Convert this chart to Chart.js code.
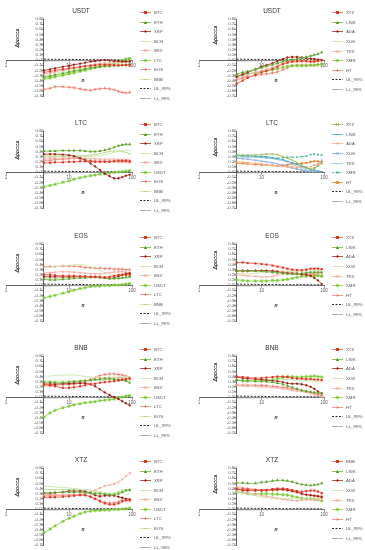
<!DOCTYPE html>
<html><head><meta charset="utf-8">
<script src="https://cdn.jsdelivr.net/npm/chart.js@4.4.1/dist/chart.umd.min.js"></script>
<style>
html,body{margin:0;padding:0;background:#fff;}
#wrap{position:relative;width:365px;height:550px;overflow:hidden;font-family:"Liberation Sans",Arial,sans-serif;}
.panel{position:absolute;height:112px;}
.panel canvas{position:absolute;left:0;top:0;}
.ttl{position:absolute;font-size:6.5px;color:#333;transform:translate(-50%,-50%);white-space:nowrap;}
.ytl{position:absolute;font-size:5px;font-weight:bold;font-style:italic;color:#222;transform:translate(-50%,-50%) rotate(-90deg);white-space:nowrap;}
.xtl{position:absolute;font-size:5px;font-weight:bold;font-style:italic;color:#222;transform:translate(-50%,-50%);}
.li{position:absolute;height:6px;display:flex;align-items:center;white-space:nowrap;font-size:4.3px;color:#555;}
.li svg{margin-right:3px;}
</style></head>
<body><div id="wrap"></div>
<script>
const N_VALUES = [4,5,6,8,10,12,15,18,22,26,31,37,44,52,61,70,80,92];
const X_TICKS = [1,10,100];
const Y_TICKS = [-0.7,-0.6,-0.5,-0.4,-0.3,-0.2,-0.1,0,0.1,0.2,0.3,0.4,0.5,0.6,0.7,0.8];
const UL_99 = [0.018,0.016,0.015,0.013,0.012,0.011,0.01,0.009,0.008,0.007,0.006,0.006,0.005,0.005,0.005,0.004,0.004,0.004];
const LL_99 = [-0.018,-0.016,-0.015,-0.013,-0.012,-0.011,-0.01,-0.009,-0.008,-0.007,-0.006,-0.006,-0.005,-0.005,-0.005,-0.004,-0.004,-0.004];

const USDT_A_NAMES = ['BTC','ETH','XRP','BCH','BSV','LTC','EOS','BNB'];
const USDT_A_VALUES = [
 [-0.24,-0.22,-0.20,-0.18,-0.16,-0.15,-0.13,-0.12,-0.11,-0.10,-0.09,-0.09,-0.09,-0.10,-0.10,-0.10,-0.10,-0.10],
 [-0.33,-0.31,-0.29,-0.26,-0.23,-0.21,-0.19,-0.17,-0.15,-0.14,-0.13,-0.12,-0.12,-0.11,-0.11,-0.10,-0.09,-0.08],
 [-0.20,-0.18,-0.16,-0.13,-0.11,-0.09,-0.07,-0.05,-0.03,-0.02,-0.01,0.00,-0.01,-0.02,-0.02,-0.03,-0.03,-0.03],
 [-0.30,-0.28,-0.26,-0.23,-0.20,-0.18,-0.16,-0.14,-0.12,-0.10,-0.09,-0.08,-0.07,-0.06,-0.05,-0.04,-0.02,-0.01],
 [-0.27,-0.25,-0.23,-0.20,-0.18,-0.16,-0.14,-0.12,-0.10,-0.08,-0.07,-0.06,-0.06,-0.05,-0.05,-0.05,-0.04,-0.04],
 [-0.37,-0.35,-0.33,-0.30,-0.27,-0.25,-0.22,-0.20,-0.17,-0.15,-0.13,-0.11,-0.09,-0.07,-0.04,-0.01,0.02,0.03],
 [-0.57,-0.55,-0.52,-0.52,-0.53,-0.54,-0.56,-0.58,-0.59,-0.57,-0.56,-0.55,-0.56,-0.58,-0.61,-0.63,-0.64,-0.63],
 [-0.35,-0.33,-0.31,-0.28,-0.25,-0.23,-0.20,-0.18,-0.16,-0.14,-0.12,-0.10,-0.08,-0.06,-0.03,0.00,0.03,0.04]];
const USDT_B_NAMES = ['XTZ','LINK','ADA','XLM','TRX','XMR','HT'];
const USDT_B_VALUES = [
 [-0.46,-0.40,-0.35,-0.29,-0.24,-0.21,-0.17,-0.13,-0.08,-0.05,-0.03,-0.02,-0.02,-0.02,-0.03,-0.03,-0.02,0.00],
 [-0.27,-0.24,-0.22,-0.18,-0.15,-0.12,-0.09,-0.06,-0.03,-0.01,0.01,0.02,0.04,0.06,0.08,0.10,0.12,0.15],
 [-0.33,-0.28,-0.24,-0.18,-0.13,-0.10,-0.06,-0.02,0.02,0.05,0.06,0.06,0.05,0.04,0.03,0.02,0.01,0.00],
 [-0.29,-0.26,-0.23,-0.19,-0.15,-0.12,-0.09,-0.06,-0.03,-0.02,-0.01,-0.02,-0.02,-0.01,-0.01,0.00,0.00,0.01],
 [-0.36,-0.32,-0.28,-0.24,-0.21,-0.18,-0.14,-0.10,-0.07,-0.05,-0.04,-0.04,-0.03,-0.03,-0.03,-0.03,-0.02,-0.02],
 [-0.31,-0.29,-0.27,-0.25,-0.23,-0.21,-0.19,-0.17,-0.14,-0.12,-0.11,-0.11,-0.11,-0.11,-0.10,-0.10,-0.09,-0.08],
 [-0.39,-0.35,-0.32,-0.30,-0.28,-0.27,-0.25,-0.23,-0.19,-0.15,-0.11,-0.10,-0.10,-0.10,-0.10,-0.10,-0.09,-0.08]];

const LTC_A_NAMES = ['BTC','ETH','XRP','BCH','BSV','USDT','EOS','BNB'];
const LTC_A_VALUES = [
 [0.18,0.18,0.19,0.19,0.20,0.20,0.21,0.21,0.21,0.20,0.20,0.20,0.20,0.21,0.22,0.22,0.22,0.21],
 [0.41,0.41,0.41,0.42,0.42,0.42,0.42,0.41,0.40,0.40,0.41,0.43,0.45,0.48,0.51,0.53,0.54,0.54],
 [0.35,0.35,0.35,0.34,0.33,0.31,0.27,0.23,0.17,0.11,0.04,-0.03,-0.08,-0.12,-0.12,-0.10,-0.07,-0.05],
 [0.33,0.33,0.32,0.32,0.31,0.31,0.30,0.30,0.30,0.31,0.32,0.34,0.36,0.38,0.40,0.41,0.42,0.43],
 [0.27,0.27,0.27,0.27,0.28,0.28,0.27,0.27,0.26,0.26,0.25,0.25,0.25,0.25,0.24,0.24,0.24,0.24],
 [-0.29,-0.26,-0.24,-0.20,-0.17,-0.14,-0.11,-0.09,-0.07,-0.06,-0.04,-0.03,-0.02,-0.01,0.00,0.01,0.02,0.03],
 [0.23,0.23,0.24,0.25,0.26,0.27,0.26,0.24,0.22,0.21,0.21,0.21,0.21,0.21,0.20,0.20,0.20,0.19],
 [0.30,0.30,0.30,0.30,0.31,0.31,0.32,0.32,0.33,0.34,0.36,0.38,0.40,0.41,0.41,0.40,0.38,0.35]];
const LTC_B_NAMES = ['XTZ','LINK','ADA','XLM','TRX','XMR','HT'];
const LTC_B_VALUES = [
 [0.33,0.33,0.33,0.33,0.34,0.35,0.35,0.34,0.30,0.27,0.23,0.18,0.13,0.09,0.06,0.08,0.12,0.17],
 [0.33,0.32,0.32,0.31,0.30,0.30,0.28,0.26,0.24,0.21,0.18,0.15,0.11,0.08,0.05,0.03,0.02,0.01],
 [0.20,0.19,0.18,0.17,0.16,0.14,0.13,0.12,0.11,0.10,0.10,0.10,0.10,0.09,0.11,0.14,0.16,0.17],
 [0.27,0.26,0.25,0.23,0.21,0.20,0.18,0.16,0.13,0.11,0.08,0.06,0.04,0.02,0.02,0.06,0.15,0.23],
 [0.29,0.29,0.29,0.29,0.28,0.27,0.26,0.24,0.22,0.19,0.15,0.11,0.07,0.04,0.02,0.01,0.01,0.01],
 [0.32,0.31,0.30,0.30,0.29,0.28,0.27,0.27,0.28,0.29,0.29,0.29,0.30,0.31,0.34,0.35,0.34,0.33],
 [0.17,0.17,0.16,0.15,0.14,0.14,0.13,0.12,0.13,0.14,0.16,0.16,0.17,0.18,0.20,0.21,0.21,0.20]];

const EOS_A_NAMES = ['BTC','ETH','XRP','BCH','BSV','USDT','LTC','BNB'];
const EOS_A_VALUES = [
 [0.20,0.20,0.19,0.18,0.18,0.18,0.17,0.17,0.16,0.16,0.16,0.15,0.16,0.18,0.20,0.20,0.20,0.20],
 [0.11,0.10,0.10,0.11,0.12,0.13,0.14,0.14,0.15,0.15,0.15,0.14,0.13,0.13,0.13,0.14,0.15,0.16],
 [0.16,0.16,0.16,0.16,0.16,0.16,0.16,0.16,0.16,0.16,0.15,0.14,0.13,0.14,0.17,0.20,0.22,0.23],
 [0.35,0.35,0.36,0.37,0.38,0.39,0.40,0.39,0.36,0.32,0.28,0.24,0.21,0.19,0.19,0.20,0.22,0.23],
 [0.24,0.24,0.25,0.26,0.26,0.25,0.24,0.23,0.22,0.22,0.22,0.23,0.24,0.25,0.26,0.26,0.25,0.24],
 [-0.25,-0.22,-0.20,-0.16,-0.13,-0.10,-0.07,-0.05,-0.03,-0.02,-0.02,-0.01,-0.01,0.00,0.00,0.01,0.02,0.03],
 [0.36,0.36,0.36,0.37,0.37,0.37,0.36,0.34,0.34,0.33,0.33,0.32,0.32,0.31,0.31,0.31,0.30,0.30],
 [0.12,0.12,0.13,0.14,0.15,0.16,0.17,0.17,0.16,0.15,0.14,0.13,0.12,0.12,0.13,0.14,0.15,0.16]];
const EOS_B_NAMES = ['XTZ','LINK','ADA','XLM','TRX','XMR','HT'];
const EOS_B_VALUES = [
 [0.44,0.44,0.43,0.42,0.41,0.40,0.38,0.36,0.34,0.32,0.30,0.29,0.29,0.30,0.32,0.32,0.32,0.31],
 [0.28,0.28,0.27,0.27,0.27,0.26,0.25,0.24,0.23,0.22,0.22,0.22,0.23,0.24,0.25,0.25,0.25,0.25],
 [0.28,0.28,0.28,0.28,0.28,0.28,0.27,0.26,0.24,0.23,0.22,0.22,0.21,0.20,0.18,0.14,0.09,0.02],
 [0.22,0.22,0.22,0.23,0.24,0.25,0.26,0.27,0.27,0.27,0.27,0.27,0.27,0.27,0.28,0.28,0.28,0.28],
 [0.20,0.19,0.18,0.17,0.16,0.16,0.17,0.19,0.22,0.22,0.22,0.21,0.21,0.22,0.22,0.23,0.23,0.23],
 [0.10,0.09,0.08,0.08,0.08,0.08,0.09,0.09,0.10,0.11,0.13,0.15,0.17,0.17,0.18,0.18,0.18,0.17],
 [0.27,0.27,0.27,0.28,0.28,0.28,0.28,0.27,0.26,0.25,0.24,0.23,0.22,0.22,0.21,0.20,0.19,0.18]];

const BNB_A_NAMES = ['BTC','ETH','XRP','BCH','BSV','USDT','LTC','EOS'];
const BNB_A_VALUES = [
 [0.25,0.23,0.21,0.18,0.18,0.19,0.21,0.23,0.25,0.26,0.28,0.29,0.30,0.31,0.32,0.34,0.35,0.36],
 [0.29,0.29,0.28,0.28,0.29,0.30,0.31,0.32,0.33,0.34,0.35,0.36,0.36,0.35,0.34,0.33,0.31,0.28],
 [0.25,0.25,0.25,0.26,0.26,0.27,0.27,0.27,0.25,0.21,0.15,0.09,0.04,0.00,-0.04,-0.08,-0.12,-0.16],
 [0.41,0.41,0.42,0.43,0.43,0.43,0.42,0.40,0.39,0.38,0.38,0.38,0.38,0.38,0.39,0.39,0.40,0.40],
 [0.26,0.26,0.26,0.27,0.27,0.28,0.29,0.30,0.32,0.34,0.36,0.37,0.38,0.38,0.38,0.38,0.37,0.37],
 [-0.39,-0.31,-0.26,-0.21,-0.18,-0.15,-0.13,-0.11,-0.10,-0.09,-0.07,-0.06,-0.05,-0.04,-0.02,0.00,0.02,0.03],
 [0.22,0.22,0.23,0.24,0.24,0.25,0.27,0.30,0.34,0.38,0.42,0.44,0.45,0.45,0.44,0.43,0.41,0.38],
 [0.31,0.31,0.31,0.31,0.31,0.31,0.32,0.32,0.32,0.33,0.33,0.33,0.34,0.34,0.34,0.34,0.33,0.33]];
const BNB_B_NAMES = ['XTZ','LINK','ADA','XLM','TRX','XMR','HT'];
const BNB_B_VALUES = [
 [0.40,0.39,0.38,0.37,0.37,0.38,0.39,0.40,0.40,0.39,0.37,0.36,0.36,0.35,0.35,0.34,0.34,0.33],
 [0.33,0.32,0.32,0.31,0.31,0.30,0.29,0.27,0.25,0.22,0.19,0.16,0.13,0.11,0.10,0.09,0.08,0.07],
 [0.39,0.37,0.36,0.35,0.34,0.33,0.32,0.31,0.29,0.27,0.26,0.26,0.25,0.23,0.20,0.16,0.11,0.07],
 [0.33,0.33,0.33,0.33,0.33,0.33,0.34,0.34,0.34,0.34,0.33,0.33,0.32,0.32,0.31,0.30,0.30,0.29],
 [0.23,0.22,0.21,0.21,0.20,0.20,0.19,0.18,0.16,0.15,0.13,0.12,0.11,0.09,0.07,0.05,0.03,0.00],
 [0.33,0.32,0.31,0.31,0.31,0.32,0.34,0.36,0.38,0.40,0.40,0.39,0.39,0.40,0.40,0.41,0.40,0.39],
 [0.23,0.23,0.23,0.23,0.23,0.22,0.21,0.20,0.19,0.18,0.16,0.15,0.13,0.11,0.09,0.07,0.05,0.03]];

const XTZ_A_NAMES = ['BTC','ETH','XRP','BCH','BSV','USDT','LTC','EOS'];
const XTZ_A_VALUES = [
 [0.23,0.23,0.23,0.24,0.25,0.26,0.27,0.27,0.24,0.20,0.15,0.11,0.09,0.09,0.11,0.15,0.17,0.18],
 [0.31,0.31,0.32,0.33,0.33,0.33,0.33,0.32,0.31,0.30,0.30,0.29,0.28,0.28,0.30,0.33,0.36,0.37],
 [0.31,0.31,0.32,0.33,0.35,0.35,0.35,0.34,0.31,0.27,0.25,0.26,0.26,0.26,0.24,0.22,0.20,0.19],
 [0.44,0.44,0.43,0.42,0.41,0.40,0.39,0.38,0.37,0.36,0.34,0.32,0.30,0.30,0.30,0.30,0.29,0.28],
 [0.28,0.28,0.28,0.28,0.28,0.28,0.29,0.30,0.33,0.37,0.41,0.45,0.47,0.49,0.53,0.58,0.64,0.70],
 [-0.46,-0.39,-0.33,-0.24,-0.18,-0.14,-0.09,-0.06,-0.04,-0.03,-0.03,-0.02,-0.02,-0.01,-0.01,0.00,0.01,0.02],
 [0.26,0.26,0.26,0.27,0.27,0.28,0.28,0.27,0.24,0.20,0.16,0.13,0.12,0.12,0.14,0.17,0.17,0.16],
 [0.38,0.38,0.38,0.38,0.38,0.38,0.37,0.36,0.34,0.33,0.31,0.30,0.30,0.31,0.34,0.37,0.38,0.38]];
const XTZ_B_NAMES = ['BNB','LINK','ADA','XLM','TRX','XMR','HT'];
const XTZ_B_VALUES = [
 [0.39,0.38,0.38,0.37,0.37,0.37,0.39,0.40,0.40,0.39,0.37,0.35,0.34,0.35,0.36,0.36,0.34,0.31],
 [0.51,0.51,0.50,0.50,0.52,0.53,0.55,0.56,0.56,0.55,0.53,0.50,0.48,0.47,0.46,0.47,0.48,0.50],
 [0.39,0.37,0.36,0.36,0.36,0.37,0.38,0.38,0.38,0.37,0.35,0.33,0.30,0.28,0.27,0.26,0.25,0.23],
 [0.33,0.31,0.29,0.26,0.23,0.22,0.21,0.21,0.21,0.20,0.20,0.20,0.20,0.20,0.20,0.20,0.20,0.20],
 [0.36,0.34,0.32,0.29,0.26,0.25,0.23,0.21,0.19,0.18,0.17,0.16,0.17,0.18,0.18,0.18,0.18,0.18],
 [0.33,0.32,0.30,0.29,0.30,0.30,0.29,0.29,0.28,0.27,0.25,0.23,0.21,0.20,0.20,0.19,0.18,0.16],
 [0.42,0.41,0.40,0.38,0.36,0.36,0.36,0.37,0.38,0.37,0.35,0.33,0.30,0.28,0.27,0.26,0.25,0.25]];

// styles
const WARM = [
 {c:'#e5321f', l:'#ee6a5a', ps:'rect', r:1.5},
 {c:'#5a9e2c', l:'#7fbd52', ps:'triangle', r:1.8},
 {c:'#9a1b10', l:'#b04236', ps:'rectRot', r:1.4},
 {c:'#c8e6a8', l:'#c8e6a8', ps:false, r:0},
 {c:'#f2a298', l:'#f5b4ab', ps:'crossRot', r:1.5},
 {c:'#78c832', l:'#8dd24c', ps:'star', r:1.7},
 {c:'#ef7a68', l:'#f29283', ps:'cross', r:1.6},
 {c:'#b4db8c', l:'#c2e2a0', ps:'line', r:1.6}
];
const COOL = [
 {c:'#9bbb59', l:'#9bbb59', ps:'crossRot', r:1.5},
 {c:'#3fa7b5', l:'#4bacc6', ps:'line', r:1.5},
 {c:'#f3a774', l:'#f5b48a', ps:'circle', r:1.0},
 {c:'#8ea9db', l:'#8ea9db', ps:'crossRot', r:1.4},
 {c:'#9dc3e6', l:'#9dc3e6', ps:false, r:0},
 {c:'#3fb894', l:'#4cbfa0', ps:'rect', r:1.1, dash:[2,1.5]},
 {c:'#ef7a2a', l:'#f08a3c', ps:'rect', r:1.4}
];
const BAND = [
 {name:'UL_99%', c:'#111', dash:[2,1.5], w:0.9},
 {name:'LL_99%', c:'#a6a6a6', dash:[], w:0.9}
];

const PANELS = [
 {title:'USDT', names:USDT_A_NAMES, values:USDT_A_VALUES, col:0, row:0, pal:WARM},
 {title:'USDT', names:USDT_B_NAMES, values:USDT_B_VALUES, col:1, row:0, pal:WARM},
 {title:'LTC', names:LTC_A_NAMES, values:LTC_A_VALUES, col:0, row:1, pal:WARM},
 {title:'LTC', names:LTC_B_NAMES, values:LTC_B_VALUES, col:1, row:1, pal:COOL},
 {title:'EOS', names:EOS_A_NAMES, values:EOS_A_VALUES, col:0, row:2, pal:WARM},
 {title:'EOS', names:EOS_B_NAMES, values:EOS_B_VALUES, col:1, row:2, pal:WARM},
 {title:'BNB', names:BNB_A_NAMES, values:BNB_A_VALUES, col:0, row:3, pal:WARM},
 {title:'BNB', names:BNB_B_NAMES, values:BNB_B_VALUES, col:1, row:3, pal:WARM},
 {title:'XTZ', names:XTZ_A_NAMES, values:XTZ_A_VALUES, col:0, row:4, pal:WARM},
 {title:'XTZ', names:XTZ_B_NAMES, values:XTZ_B_VALUES, col:1, row:4, pal:WARM}
];

const FONT = '"Liberation Sans", Arial, sans-serif';
const GEO = [
 {x:0, w:182, padL:6, padR:50, titleX:81, yTitleX:17, yTitleY:38, nX:83, legLine:140, legStart:12.5, legStep:9.5},
 {x:182, w:183, padL:17, padR:41, titleX:90, yTitleX:33, yTitleY:35, nX:94, legLine:150, legStart:12.7, legStep:9.6}
];

function markerSVG(ps, c, r, cx, cy) {
  if (!ps) return '';
  const a = (x)=>x.toFixed(2);
  switch (ps) {
    case 'rect': return `<rect x="${a(cx-r)}" y="${a(cy-r)}" width="${a(2*r)}" height="${a(2*r)}" fill="${c}"/>`;
    case 'triangle': return `<polygon points="${a(cx)},${a(cy-r)} ${a(cx+r)},${a(cy+r*0.8)} ${a(cx-r)},${a(cy+r*0.8)}" fill="${c}"/>`;
    case 'rectRot': return `<polygon points="${a(cx)},${a(cy-r)} ${a(cx+r)},${a(cy)} ${a(cx)},${a(cy+r)} ${a(cx-r)},${a(cy)}" fill="${c}"/>`;
    case 'circle': return `<circle cx="${a(cx)}" cy="${a(cy)}" r="${a(r)}" fill="${c}"/>`;
    case 'crossRot': return `<path d="M${a(cx-r)} ${a(cy-r)}L${a(cx+r)} ${a(cy+r)}M${a(cx+r)} ${a(cy-r)}L${a(cx-r)} ${a(cy+r)}" stroke="${c}" stroke-width="0.8"/>`;
    case 'cross': return `<path d="M${a(cx-r)} ${a(cy)}L${a(cx+r)} ${a(cy)}M${a(cx)} ${a(cy-r)}L${a(cx)} ${a(cy+r)}" stroke="${c}" stroke-width="0.8"/>`;
    case 'star': return `<path d="M${a(cx-r)} ${a(cy)}L${a(cx+r)} ${a(cy)}M${a(cx)} ${a(cy-r)}L${a(cx)} ${a(cy+r)}M${a(cx-r*0.7)} ${a(cy-r*0.7)}L${a(cx+r*0.7)} ${a(cy+r*0.7)}M${a(cx+r*0.7)} ${a(cy-r*0.7)}L${a(cx-r*0.7)} ${a(cy+r*0.7)}" stroke="${c}" stroke-width="0.8"/>`;
    case 'line': return `<path d="M${a(cx-r)} ${a(cy)}L${a(cx+r)} ${a(cy)}" stroke="${c}" stroke-width="1"/>`;
  }
  return '';
}

const wrap = document.getElementById('wrap');
PANELS.forEach(p => {
  const g = GEO[p.col];
  const top = Math.round(112.3 * p.row);
  const div = document.createElement('div');
  div.className = 'panel';
  div.style.left = g.x + 'px'; div.style.top = top + 'px'; div.style.width = g.w + 'px';
  wrap.appendChild(div);
  const cv = document.createElement('canvas');
  cv.width = g.w; cv.height = 112;
  cv.style.width = g.w + 'px'; cv.style.height = '112px';
  div.appendChild(cv);

  const t = document.createElement('div'); t.className = 'ttl'; t.textContent = p.title;
  t.style.left = g.titleX + 'px'; t.style.top = '10px'; div.appendChild(t);
  const yt = document.createElement('div'); yt.className = 'ytl';
  yt.innerHTML = 'Δρ<span style="font-size:4.3px">DCCA</span>';
  yt.style.left = g.yTitleX + 'px'; yt.style.top = g.yTitleY + 'px'; div.appendChild(yt);
  const xt = document.createElement('div'); xt.className = 'xtl'; xt.textContent = 'n';
  xt.style.left = g.nX + 'px'; xt.style.top = '80px'; div.appendChild(xt);

  const datasets = p.names.map((nm, i) => {
    const s = p.pal[i];
    return {
      label: nm, data: p.values[i], borderColor: s.l, backgroundColor: s.c,
      borderWidth: 0.9, borderDash: s.dash || [], pointStyle: s.ps || 'circle',
      pointRadius: s.ps ? s.r : 0, pointBorderColor: s.c, pointBackgroundColor: s.c,
      pointBorderWidth: (s.ps==='crossRot'||s.ps==='cross'||s.ps==='star'||s.ps==='line') ? 0.8 : 0,
      tension: 0.35, fill: false
    };
  });
  datasets.push({label: BAND[0].name, data: UL_99, borderColor: BAND[0].c, borderDash: BAND[0].dash, borderWidth: BAND[0].w, pointRadius: 0, fill:false});
  datasets.push({label: BAND[1].name, data: LL_99, borderColor: BAND[1].c, borderDash: BAND[1].dash, borderWidth: BAND[1].w, pointRadius: 0, fill:false});

  // legend (HTML)
  const items = p.names.map((nm, i) => ({name:nm, s:p.pal[i]}));
  BAND.forEach(b => items.push({name:b.name, s:{c:b.c, l:b.c, ps:false, dash:b.dash}}));
  items.forEach((it, k) => {
    const li = document.createElement('div'); li.className = 'li';
    li.style.left = g.legLine + 'px';
    li.style.top = (g.legStart + k * g.legStep - 3) + 'px';
    const dash = (it.s.dash && it.s.dash.length) ? `stroke-dasharray="${it.s.dash.join(' ')}"` : '';
    li.innerHTML = `<svg width="11" height="5" viewBox="0 0 11 5"><line x1="0" y1="2.5" x2="11" y2="2.5" stroke="${it.s.l}" stroke-width="0.9" ${dash}/>${markerSVG(it.s.ps, it.s.c, it.s.r, 5.5, 2.5)}</svg>` + `<span>${it.name}</span>`;
    div.appendChild(li);
  });

  new Chart(cv, {
    type: 'line',
    data: { labels: N_VALUES, datasets: datasets.map(d => Object.assign(d, {data: d.data.map((v, j) => ({x: N_VALUES[j], y: v}))})) },
    options: {
      responsive: false, animation: false, devicePixelRatio: 1,
      layout: { padding: { left: g.padL, right: g.padR, top: 19, bottom: 16 } },
      plugins: { legend: { display: false }, title: { display: false }, tooltip: { enabled: false } },
      elements: { line: { borderCapStyle: 'butt' } },
      scales: {
        x: {
          type: 'logarithmic', min: 1, max: 100, position: { y: 0 },
          afterBuildTicks: s => { s.ticks = X_TICKS.map(v => ({ value: v, major: true })); },
          ticks: { font: { size: 4.6, family: FONT }, color: '#595959', padding: 1, maxRotation: 0, autoSkip: false, callback: v => String(v) },
          grid: { drawOnChartArea: false, drawTicks: true, tickLength: 2, color: '#595959', lineWidth: 0.6 },
          border: { color: '#404040', width: 0.8 }
        },
        y: {
          type: 'linear', min: -0.7, max: 0.8, position: { x: 4 },
          afterBuildTicks: s => { s.ticks = Y_TICKS.map(v => ({ value: v })); },
          ticks: { font: { size: 4.3, family: FONT }, color: '#595959', padding: 1, autoSkip: false, callback: v => Number(v).toFixed(2) },
          grid: { drawOnChartArea: false, drawTicks: true, tickLength: 2, color: '#595959', lineWidth: 0.6 },
          border: { color: '#404040', width: 0.8 }
        }
      }
    }
  });
});
</script>
</body></html>
